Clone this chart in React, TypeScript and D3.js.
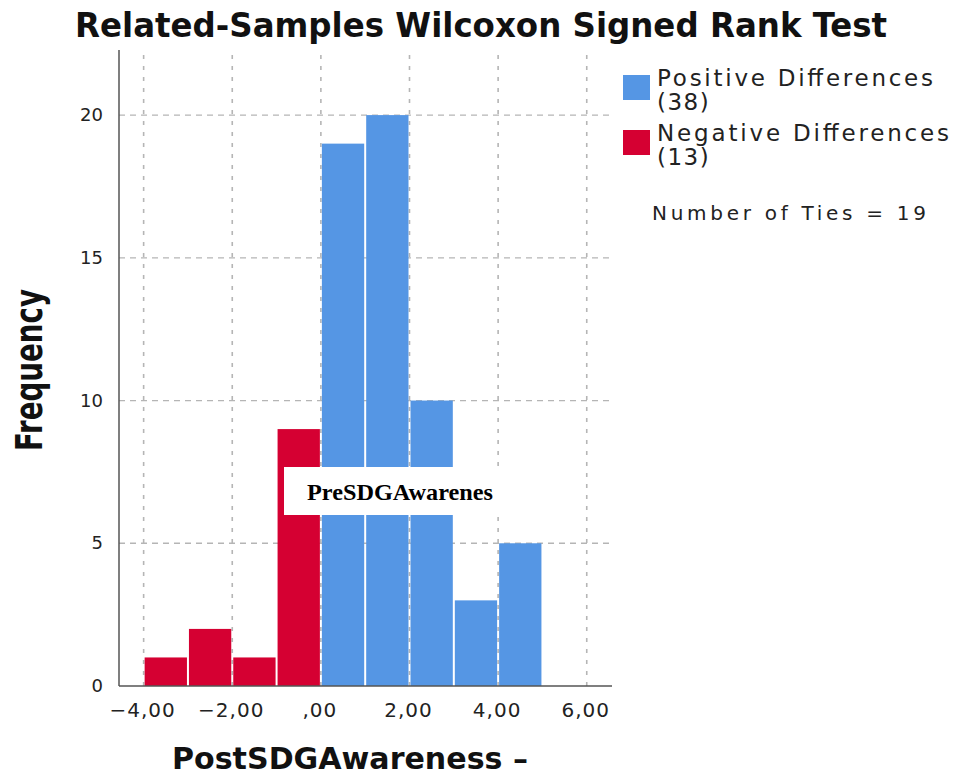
import React from "react";
import * as d3 from "d3";

const binStarts = [-4, -3, -2, -1, 0, 1, 2, 3, 4];
const frequencies = [1, 2, 1, 9, 19, 20, 10, 3, 5];
const signs = ["neg", "neg", "neg", "neg", "pos", "pos", "pos", "pos", "pos"];
const xTicks = [-4, -2, 0, 2, 4, 6];
const xTickLabels = ["−4,00", "−2,00", ",00", "2,00", "4,00", "6,00"];
const yTicks = [0, 5, 10, 15, 20];
const legendItems = [
  { key: "pos", line1: "Positive Differences", line2: "(38)" },
  { key: "neg", line1: "Negative Differences", line2: "(13)" },
];
const tiesText = "Number of Ties = 19";

const COLORS: Record<string, string> = { pos: "#5596E4", neg: "#D50032" };
const LEGEND_WIDTHS = [276, 292];

export default function App() {
  const W = 953, H = 775;
  const left = 119, right = 612, top = 50, bottom = 686;
  const x = d3.scaleLinear().domain([-4.556, 6.57]).range([left, right]);
  const y = d3.scaleLinear().domain([0, 22.28]).range([bottom, top]);
  const font = "'DejaVu Sans', Verdana, sans-serif";
  const condensed = "'DejaVu Sans Condensed', 'DejaVu Sans', sans-serif";

  return (
    <svg width={W} height={H} style={{ position: "absolute", left: 0, top: 0, background: "#fff" }}>
      <rect width={W} height={H} fill="#fff" />
      <text x={75} y={37} fontFamily={condensed} fontWeight="bold"
        fontSize={33} textLength={812} lengthAdjust="spacingAndGlyphs" fill="#111">
        Related-Samples Wilcoxon Signed Rank Test
      </text>

      {/* grid */}
      {yTicks.filter((t) => t > 0).map((t) => (
        <line key={"hy" + t} x1={left} x2={right} y1={y(t)} y2={y(t)} stroke="#b5b5b5" strokeWidth={1.3} strokeDasharray="6,5" />
      ))}
      {xTicks.map((t) => (
        <line key={"vx" + t} x1={x(t)} x2={x(t)} y1={bottom} y2={top + 4} stroke="#b5b5b5" strokeWidth={1.6} strokeDasharray="4,7" />
      ))}

      {/* bars */}
      {binStarts.map((b, i) => (
        <rect key={"bar" + i} x={x(b) + 1} width={x(b + 1) - x(b) - 2} y={y(frequencies[i])}
          height={y(0) - y(frequencies[i])} fill={COLORS[signs[i]]} />
      ))}

      {/* axes */}
      <line x1={left} x2={left} y1={top} y2={bottom} stroke="#555" strokeWidth={1.5} />
      <line x1={left} x2={right} y1={bottom} y2={bottom} stroke="#555" strokeWidth={1.5} />

      {yTicks.map((t) => (
        <text key={"yl" + t} x={103} y={y(t) + 6} textAnchor="end" fontFamily={font} fontSize={18} fill="#222">
          {t}
        </text>
      ))}
      {xTicks.map((t, i) => (
        <text key={"xl" + t} x={x(t) - 1} y={717} textAnchor="middle" fontFamily={font} fontSize={20} letterSpacing={1} fill="#222">
          {xTickLabels[i]}
        </text>
      ))}

      <text transform={`translate(42,370) rotate(-90)`} textAnchor="middle" fontFamily={condensed}
        fontWeight="bold" fontSize={37} textLength={162} lengthAdjust="spacingAndGlyphs" fill="#111">
        Frequency
      </text>
      <text x={172} y={769} fontFamily={font} fontWeight="bold" fontSize={31}
        textLength={356} lengthAdjust="spacingAndGlyphs" fill="#111">
        PostSDGAwareness –
      </text>

      {/* white label */}
      <rect x={284} y={467} width={222} height={48} fill="#fff" />
      <text x={307} y={500} fontFamily="'Liberation Serif', 'Times New Roman', serif" fontWeight="bold" fontSize={24}
        textLength={186} lengthAdjust="spacingAndGlyphs" fill="#000">
        PreSDGAwarenes
      </text>

      {/* legend */}
      {legendItems.map((it, i) => (
        <g key={it.key} transform={`translate(0, ${i * 55})`}>
          <rect x={623} y={75} width={27} height={25} fill={COLORS[it.key]} />
          <text x={657} y={86} fontFamily={font} fontSize={23} textLength={LEGEND_WIDTHS[i]}
            lengthAdjust="spacing" fill="#222">{it.line1}</text>
          <text x={657} y={110} fontFamily={font} fontSize={23} letterSpacing={1.5} fill="#222">{it.line2}</text>
        </g>
      ))}
      <text x={652} y={220} fontFamily={font} fontSize={20} textLength={274} lengthAdjust="spacing" fill="#222">{tiesText}</text>
    </svg>
  );
}
